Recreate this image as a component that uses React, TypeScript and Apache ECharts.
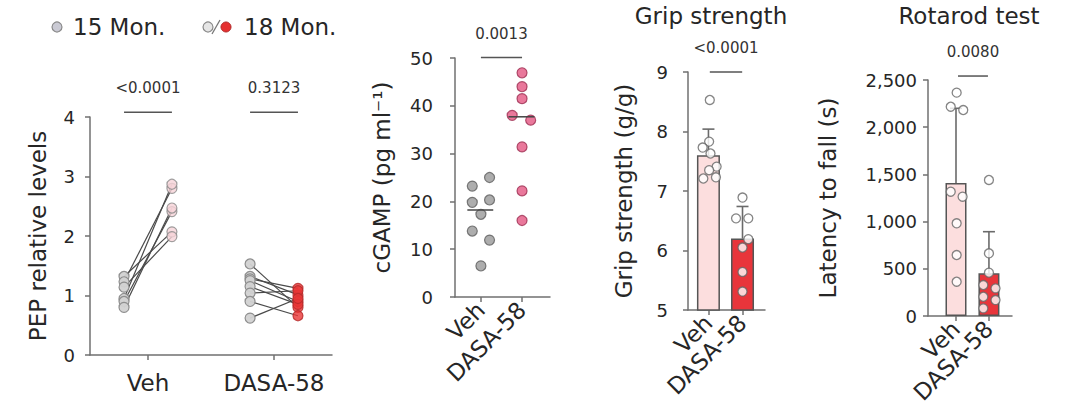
import React, { useEffect, useRef } from "react";
import * as echarts from "echarts";

// ---------- data ----------
const groups = ["Veh", "DASA-58"];

// Panel 1: PEP relative levels, paired 15 Mon -> 18 Mon
const pepVeh15 = [1.32, 1.23, 1.14, 0.95, 0.9, 0.8];
const pepVeh18 = [2.07, 2.8, 1.99, 2.87, 2.41, 2.47];
const pepDasa15 = [1.53, 1.32, 1.28, 1.25, 1.15, 1.04, 0.9, 0.62];
const pepDasa18 = [0.8, 1.01, 1.12, 0.9, 0.85, 1.08, 0.66, 0.95];
const pepP = ["<0.0001", "0.3123"];

// Panel 2: cGAMP
const cgampVeh = [23.2, 25.0, 19.8, 20.3, 17.3, 13.8, 11.9, 6.5];
const cgampVehJitter = [-0.21, 0.21, -0.21, 0.21, 0, -0.21, 0.21, 0];
const cgampDasa = [46.9, 44.0, 41.5, 38.0, 37.0, 31.4, 22.2, 16.0];
const cgampDasaJitter = [0, 0, 0, -0.24, 0.21, 0, 0, 0];
const cgampMedian = [18.2, 37.7];
const cgampP = ["0.0013"];

// Panel 3: Grip strength
const gripVeh = [8.53, 7.83, 7.73, 7.63, 7.41, 7.35, 7.21, 7.23];
const gripVehJitter = [0.04, 0.02, -0.17, 0.06, 0.24, 0.02, -0.15, 0.22];
const gripDasa = [6.89, 6.54, 6.54, 6.19, 6.05, 5.64, 5.31];
const gripDasaJitter = [0, -0.19, 0.17, 0.17, 0, 0, 0];
const gripMean = [7.6, 6.2];
const gripSd = [0.44, 0.54];
const gripP = ["<0.0001"];

// Panel 4: Rotarod
const rotaVeh = [2366, 2217, 2182, 1317, 1264, 982, 646, 363];
const rotaVehJitter = [0.02, -0.16, 0.22, -0.16, 0.2, 0.02, 0.02, 0.02];
const rotaDasa = [1441, 664, 459, 328, 293, 204, 169, 81];
const rotaDasaJitter = [0, 0, 0, -0.17, 0.2, -0.17, 0.2, -0.17];
const rotaMean = [1410, 452];
const rotaSd = [790, 441];
const rotaP = ["0.0080"];

const legendLabels = ["15 Mon.", "18 Mon."];
const titles = ["Grip strength", "Rotarod test"];

// ---------- style ----------
const FONT = "'DejaVu Sans', Inter, sans-serif";
const AXIS = "#707070";
const TXT = "#262626";
const LINE = "#4a4a4a";
const RED = "#e8353b";
const PINK_BAR = "#fcdede";
const PAIR_OFF = 0.19;

const segRender = (color: string, width: number) => (params: any, api: any) => {
  const a = api.coord([api.value(0), api.value(2)]);
  const b = api.coord([api.value(1), api.value(2)]);
  return {
    type: "line",
    shape: { x1: a[0], y1: a[1], x2: b[0], y2: b[1] },
    style: { stroke: color, lineWidth: width },
  };
};

const bracketRender = (labels: string[]) => (params: any, api: any) => {
  const a = api.coord([api.value(0), api.value(2)]);
  const b = api.coord([api.value(1), api.value(2)]);
  return {
    type: "group",
    children: [
      {
        type: "line",
        shape: { x1: a[0], y1: a[1], x2: b[0], y2: b[1] },
        style: { stroke: "#555", lineWidth: 1.5 },
      },
      {
        type: "text",
        x: (a[0] + b[0]) / 2,
        y: a[1] - 24,
        style: {
          text: labels[params.dataIndex],
          fill: "#333",
          fontSize: 15,
          fontFamily: FONT,
          align: "center",
          verticalAlign: "middle",
        },
      },
    ],
  };
};

const pairRender = (params: any, api: any) => {
  const a = api.coord([api.value(0), api.value(1)]);
  const b = api.coord([api.value(2), api.value(3)]);
  return {
    type: "line",
    shape: { x1: a[0], y1: a[1], x2: b[0], y2: b[1] },
    style: { stroke: LINE, lineWidth: 1.2 },
  };
};

const errRender = (params: any, api: any) => {
  const base = api.coord([api.value(0), api.value(1)]);
  const top = api.coord([api.value(0), api.value(1) + api.value(2)]);
  const st = { stroke: "#6a6a6a", lineWidth: 1.6 };
  return {
    type: "group",
    children: [
      { type: "line", shape: { x1: base[0], y1: base[1], x2: top[0], y2: top[1] }, style: st },
      { type: "line", shape: { x1: top[0] - 6, y1: top[1], x2: top[0] + 6, y2: top[1] }, style: st },
    ],
  };
};

function xAxis(gridIndex: number, min: number, max: number, rotate: number) {
  return {
    gridIndex,
    type: "value",
    min,
    max,
    axisLine: { show: true, onZero: false, lineStyle: { color: AXIS, width: 1.5 } },
    axisTick: { show: true, customValues: [1, 2], length: 5, lineStyle: { color: AXIS, width: 1.5 } },
    axisLabel: {
      customValues: [1, 2],
      formatter: (v: number) => groups[Math.round(v) - 1],
      rotate,
      margin: rotate ? 9 : 16,
      fontSize: 23,
      color: TXT,
      fontFamily: FONT,
    },
    splitLine: { show: false },
  };
}

function yAxis(
  gridIndex: number,
  min: number,
  max: number,
  interval: number,
  name: string,
  nameGap: number,
  labelMargin: number,
  fmt?: (v: number) => string
) {
  return {
    gridIndex,
    type: "value",
    min,
    max,
    interval,
    name,
    nameLocation: "middle",
    nameGap,
    nameTextStyle: { fontSize: 23, color: TXT, fontFamily: FONT },
    axisLine: { show: true, onZero: false, lineStyle: { color: AXIS, width: 1.5 } },
    axisTick: { show: true, length: 5, lineStyle: { color: AXIS, width: 1.5 } },
    axisLabel: { fontSize: 18, color: TXT, fontFamily: FONT, margin: labelMargin, formatter: fmt },
    splitLine: { show: false },
  };
}

const fmtComma = (v: number) => String(v).replace(/\B(?=(\d{3})+(?!\d))/g, ",");

export default function App() {
  const ref = useRef<HTMLDivElement>(null);
  useEffect(() => {
    if (!ref.current) return;
    const chart = echarts.init(ref.current, undefined, { renderer: "svg" });
    const open = { color: "#fff", borderColor: "#666", borderWidth: 1.3 };

    const option: any = {
      animation: false,
      backgroundColor: "#fff",
      grid: [
        { left: 90, top: 117, width: 242, height: 238, outerBoundsMode: "none" },
        { left: 455, top: 58, width: 95, height: 239, outerBoundsMode: "none" },
        { left: 688, top: 72, width: 77, height: 238, outerBoundsMode: "none" },
        { left: 928, top: 80, width: 84, height: 236, outerBoundsMode: "none" },
      ],
      xAxis: [
        xAxis(0, 0.54, 2.46, 0),
        xAxis(1, 0.37, 2.68, 45),
        xAxis(2, 0.4, 2.66, 45),
        xAxis(3, 0.15, 2.7, 45),
      ],
      yAxis: [
        yAxis(0, 0, 4, 1, "PEP relative levels", 41, 15),
        yAxis(1, 0, 50, 10, "cGAMP (pg ml\u207B\u00B9)", 62, 22),
        yAxis(2, 5, 9, 1, "Grip strength (g/g)", 53, 20),
        yAxis(3, 0, 2500, 500, "Latency to fall (s)", 89, 11, fmtComma),
      ],
      graphic: [
        { type: "circle", shape: { cx: 57, cy: 27, r: 5 }, style: { fill: "#cacad4", stroke: "#8a8a8a", lineWidth: 1.2 } },
        { type: "text", x: 73, y: 27, style: { text: legendLabels[0], fontSize: 23, fontFamily: FONT, fill: TXT, verticalAlign: "middle" } },
        { type: "circle", shape: { cx: 208, cy: 27, r: 5 }, style: { fill: "#e6e6e6", stroke: "#8a8a8a", lineWidth: 1.2 } },
        { type: "line", shape: { x1: 212, y1: 34, x2: 220, y2: 20 }, style: { stroke: "#777", lineWidth: 1.3 } },
        { type: "circle", shape: { cx: 226, cy: 27, r: 5 }, style: { fill: "#e53030", stroke: "#b02828", lineWidth: 1 } },
        { type: "text", x: 244, y: 27, style: { text: legendLabels[1], fontSize: 23, fontFamily: FONT, fill: TXT, verticalAlign: "middle" } },
        { type: "text", x: 711, y: 16, style: { text: titles[0], fontSize: 23, fontFamily: FONT, fill: TXT, align: "center", verticalAlign: "middle" } },
        { type: "text", x: 969, y: 16, style: { text: titles[1], fontSize: 23, fontFamily: FONT, fill: TXT, align: "center", verticalAlign: "middle" } },
      ],
      series: [
        // ---- panel 1 ----
        {
          type: "custom", xAxisIndex: 0, yAxisIndex: 0, clip: false,
          encode: { x: [0, 2], y: [1, 3] },
          data: pepVeh15.map((v, i) => [1 - PAIR_OFF, v, 1 + PAIR_OFF, pepVeh18[i]]),
          renderItem: pairRender,
        },
        {
          type: "custom", xAxisIndex: 0, yAxisIndex: 0, clip: false,
          encode: { x: [0, 2], y: [1, 3] },
          data: pepDasa15.map((v, i) => [2 - PAIR_OFF, v, 2 + PAIR_OFF, pepDasa18[i]]),
          renderItem: pairRender,
        },
        {
          type: "scatter", xAxisIndex: 0, yAxisIndex: 0, symbolSize: 10,
          itemStyle: { color: "#d2d2d2", borderColor: "#8a8a8a", borderWidth: 1.2, opacity: 0.95 },
          data: pepVeh15.map((v) => [1 - PAIR_OFF, v]).concat(pepDasa15.map((v) => [2 - PAIR_OFF, v])),
        },
        {
          type: "scatter", xAxisIndex: 0, yAxisIndex: 0, symbolSize: 10,
          itemStyle: { color: "#f6d3d8", borderColor: "#8a8a8a", borderWidth: 1.2 },
          data: pepVeh18.map((v) => [1 + PAIR_OFF, v]),
        },
        {
          type: "scatter", xAxisIndex: 0, yAxisIndex: 0, symbolSize: 10,
          itemStyle: { color: "#e83636", borderColor: "#b52a2a", borderWidth: 1.2 },
          data: pepDasa18.map((v) => [2 + PAIR_OFF, v]),
        },
        {
          type: "custom", xAxisIndex: 0, yAxisIndex: 0, clip: false,
          encode: { x: [0, 1], y: 2 },
          data: [[1 - PAIR_OFF, 1 + PAIR_OFF, 4.08], [2 - PAIR_OFF, 2 + PAIR_OFF, 4.08]],
          renderItem: bracketRender(pepP),
        },
        // ---- panel 2 ----
        {
          type: "scatter", xAxisIndex: 1, yAxisIndex: 1, symbolSize: 10,
          itemStyle: { color: "#999999", borderColor: "#5e5e5e", borderWidth: 1.2 },
          data: cgampVeh.map((v, i) => [1 + cgampVehJitter[i], v]),
        },
        {
          type: "scatter", xAxisIndex: 1, yAxisIndex: 1, symbolSize: 10,
          itemStyle: { color: "#e35682", borderColor: "#9e2f52", borderWidth: 1.2 },
          data: cgampDasa.map((v, i) => [2 + cgampDasaJitter[i], v]),
        },
        {
          type: "custom", xAxisIndex: 1, yAxisIndex: 1, clip: false, z: 5,
          encode: { x: [0, 1], y: 2 },
          data: cgampMedian.map((m, i) => [i + 1 - 0.33, i + 1 + 0.3, m]),
          renderItem: segRender("#444", 1.5),
        },
        {
          type: "custom", xAxisIndex: 1, yAxisIndex: 1, clip: false,
          encode: { x: [0, 1], y: 2 },
          data: [[1, 2, 50.1]],
          renderItem: bracketRender(cgampP),
        },
        // ---- panel 3 ----
        {
          type: "bar", xAxisIndex: 2, yAxisIndex: 2, barWidth: 23,
          data: gripMean.map((m, i) => ({
            value: [i + 1, m],
            itemStyle: { color: i === 0 ? PINK_BAR : RED, borderColor: "#555", borderWidth: 1.5 },
          })),
        },
        {
          type: "custom", xAxisIndex: 2, yAxisIndex: 2, clip: false,
          encode: { x: 0, y: 1 },
          data: gripMean.map((m, i) => [i + 1, m, gripSd[i]]),
          renderItem: errRender,
        },
        {
          type: "scatter", xAxisIndex: 2, yAxisIndex: 2, symbolSize: 9, z: 4,
          itemStyle: open,
          data: gripVeh.map((v, i) => [1 + gripVehJitter[i], v]).concat(gripDasa.map((v, i) => [2 + gripDasaJitter[i], v])),
        },
        {
          type: "custom", xAxisIndex: 2, yAxisIndex: 2, clip: false,
          encode: { x: [0, 1], y: 2 },
          data: [[1.04, 1.99, 9.0]],
          renderItem: bracketRender(gripP),
        },
        // ---- panel 4 ----
        {
          type: "bar", xAxisIndex: 3, yAxisIndex: 3, barWidth: 21,
          data: rotaMean.map((m, i) => ({
            value: [i + 1, m],
            itemStyle: { color: i === 0 ? PINK_BAR : RED, borderColor: "#555", borderWidth: 1.5 },
          })),
        },
        {
          type: "custom", xAxisIndex: 3, yAxisIndex: 3, clip: false,
          encode: { x: 0, y: 1 },
          data: rotaMean.map((m, i) => [i + 1, m, rotaSd[i]]),
          renderItem: errRender,
        },
        {
          type: "scatter", xAxisIndex: 3, yAxisIndex: 3, symbolSize: 9, z: 4,
          itemStyle: open,
          data: rotaVeh.map((v, i) => [1 + rotaVehJitter[i], v]).concat(rotaDasa.map((v, i) => [2 + rotaDasaJitter[i], v])),
        },
        {
          type: "custom", xAxisIndex: 3, yAxisIndex: 3, clip: false,
          encode: { x: [0, 1], y: 2 },
          data: [[1.06, 1.97, 2542]],
          renderItem: bracketRender(rotaP),
        },
      ],
    };
    chart.setOption(option);
    return () => chart.dispose();
  }, []);
  return <div ref={ref} style={{ position: "fixed", left: 0, top: 0, width: 1080, height: 419 }} />;
}
